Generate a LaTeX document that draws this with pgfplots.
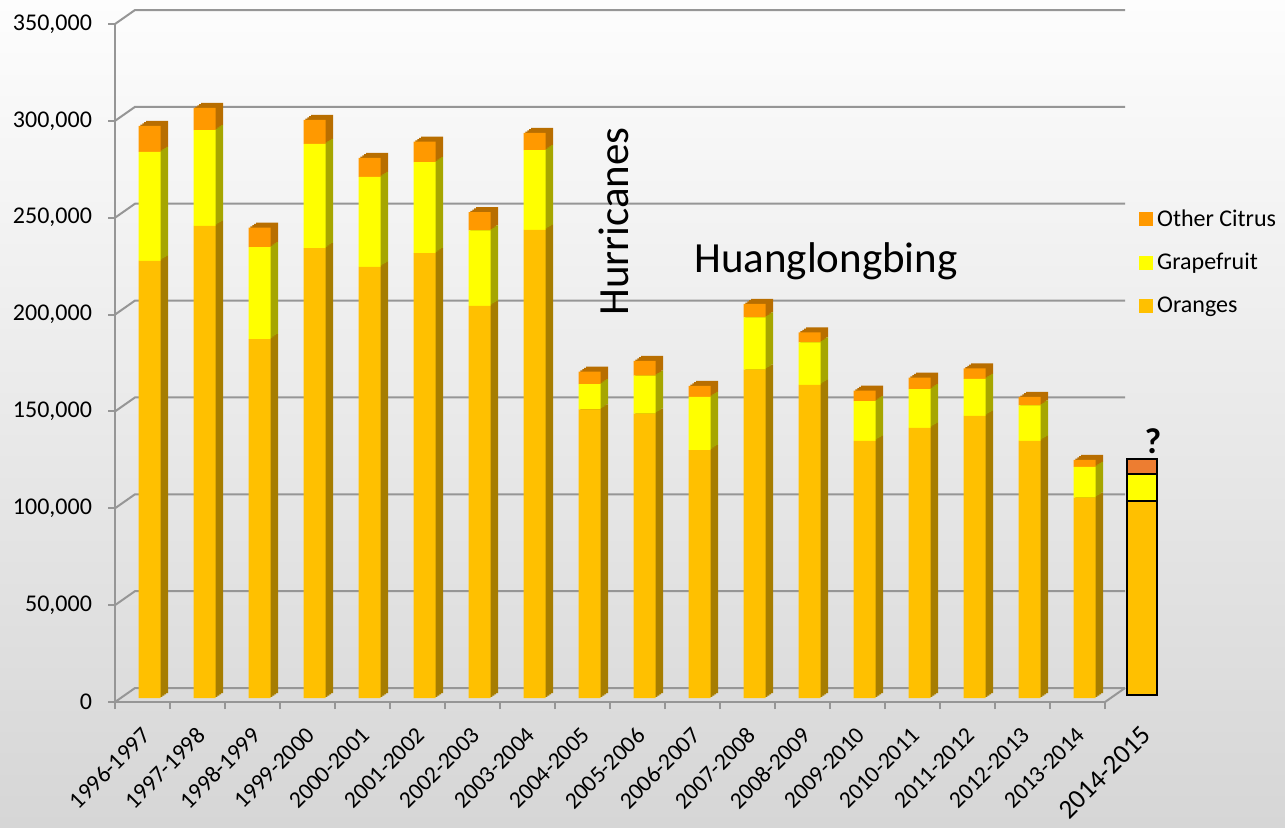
\documentclass[border=0pt]{standalone}
\usepackage{fontspec}
\setmainfont{Carlito}
\usepackage{pgfplots}
\usepackage{pgfplotstable}
\pgfplotsset{compat=1.18}

\definecolor{bgtop}{RGB}{253,253,253}
\definecolor{bgbot}{RGB}{214,214,214}
\definecolor{gridc}{RGB}{150,150,150}
\definecolor{faceO}{RGB}{255,192,0}
\definecolor{sideO}{RGB}{166,125,0}
\definecolor{faceG}{RGB}{255,255,0}
\definecolor{sideG}{RGB}{166,166,0}
\definecolor{faceC}{RGB}{255,153,0}
\definecolor{sideC}{RGB}{184,110,0}
\definecolor{flatC}{RGB}{237,125,49}

\pgfplotstableread{
x O G C
0 225600 56300 13400
1 243700 49500 11400
2 185300 47400 10100
3 232300 53700 12400
4 222500 46500 9800
5 229600 47000 10600
6 202400 39000 9400
7 241600 41200 8900
8 149000 13000 6500
9 146800 19600 7600
10 128000 27400 5700
11 169500 27000 6900
12 161700 21900 5200
13 132800 20400 5500
14 139500 20000 5900
15 145700 19100 5400
16 132800 18300 4400
17 103400 15900 3600
}\citrus

\pgfplotstableread{
x O G C
18 100200 13900 7700
}\flatbar

\pgfplotsset{
  barax/.style={scale only axis, width=495pt, height=339pt, anchor=south west,
    xmin=-0.5, xmax=17.5, ymin=0, ymax=350000, hide axis, clip=false,
    ybar stacked, bar width=11pt},
}

\newcommand{\shadowbars}[2]{%
  \begin{axis}[barax, at={(61pt+#1,64.5pt+#2)}]
    \addplot[fill=sideO, draw=none] table[x=x,y=O]{\citrus};
    \addplot[fill=sideG, draw=none] table[x=x,y=G]{\citrus};
    \addplot[fill=sideC, draw=none] table[x=x,y=C]{\citrus};
  \end{axis}}

\begin{document}
\begin{tikzpicture}
\useasboundingbox (0,0) rectangle (642.5pt,413.5pt);
\shade[top color=bgtop, bottom color=bgbot] (0,0) rectangle (642.5pt,413.5pt);

\begin{axis}[scale only axis, width=495pt, height=339pt, at={(57.5pt,62.5pt)}, anchor=south west,
  xmin=-0.5, xmax=17.5, ymin=0, ymax=350000, clip=false,
  axis x line*=bottom, axis y line*=left,
  axis line style={-, gridc, line width=1pt},
  tick align=outside, major tick length=3.5pt,
  tick style={gridc, line width=1pt},
  xtick={-0.5,0.5,...,17.5}, xticklabels={},
  ytick={0,50000,100000,150000,200000,250000,300000,350000},
  scaled y ticks=false,
  yticklabel style={xshift=-4.5pt, /pgf/number format/.cd, fixed, 1000 sep={,}},
  /pgf/number format/assume math mode=true,
  tick label style={font=\fontsize{12}{14}\selectfont, black},
  extra x ticks={0,1,...,17},
  extra x tick labels={1996-1997,1997-1998,1998-1999,1999-2000,2000-2001,2001-2002,2002-2003,2003-2004,2004-2005,2005-2006,2006-2007,2007-2008,2008-2009,2009-2010,2010-2011,2011-2012,2012-2013,2013-2014},
  extra x tick style={major tick length=0pt, tick label style={yshift=-7pt, xshift=-1pt, rotate=45, anchor=north east, font=\fontsize{11.8}{14}\selectfont}},
]
\pgfplotsinvokeforeach{0,50000,100000,150000,200000,250000,300000,350000}{
  \draw[gridc, line width=1pt] (axis cs:-0.5,#1) -- ++(10pt,7pt) -- ([shift={(10pt,7pt)}]axis cs:17.5,#1);
}
\draw[gridc, line width=1pt] (axis cs:17.5,0) -- ++(10pt,7pt);
\end{axis}

\shadowbars{3.75pt}{2.5pt}
\shadowbars{2.8125pt}{1.875pt}
\shadowbars{1.875pt}{1.25pt}
\shadowbars{0.9375pt}{0.625pt}

\begin{axis}[barax, at={(61pt,64.5pt)},
  legend style={at={(1.027,0.727)}, anchor=north west, draw=none, fill=none,
    font=\fontsize{12}{14}\selectfont, row sep=8pt, inner sep=0pt},
  legend cell align=left, reverse legend,
  legend image code/.code={\path[#1] (0pt,-3.5pt) rectangle (7pt,3.5pt);}]
  \addplot[fill=faceO, draw=none] table[x=x,y=O]{\citrus};
  \addplot[fill=faceG, draw=none] table[x=x,y=G]{\citrus};
  \addplot[fill=faceC, draw=none] table[x=x,y=C]{\citrus};
  \legend{Oranges,Grapefruit,Other Citrus}
\end{axis}

\begin{axis}[barax, at={(62.25pt,66pt)}, bar width=15pt]
  \addplot[fill=faceO, draw=black, line width=1pt] table[x=x,y=O]{\flatbar};
  \addplot[fill=faceG, draw=black, line width=1pt] table[x=x,y=G]{\flatbar};
  \addplot[fill=flatC, draw=black, line width=1pt] table[x=x,y=C]{\flatbar};
\end{axis}

\node[rotate=45, anchor=north east, font=\fontsize{13.5}{16}\selectfont, inner sep=0pt] at (570pt,51.5pt) {2014-2015};
\node[rotate=90, anchor=base, font=\fontsize{21.5}{24}\selectfont, inner sep=0pt] at (314pt,302.75pt) {Hurricanes};
\node[anchor=base, font=\fontsize{21.5}{24}\selectfont, inner sep=0pt] at (413pt,277.5pt) {Huanglongbing};
\node[anchor=base, font=\fontsize{18}{20}\selectfont\bfseries, inner sep=0pt] at (576.5pt,187pt) {?};
\end{tikzpicture}
\end{document}
